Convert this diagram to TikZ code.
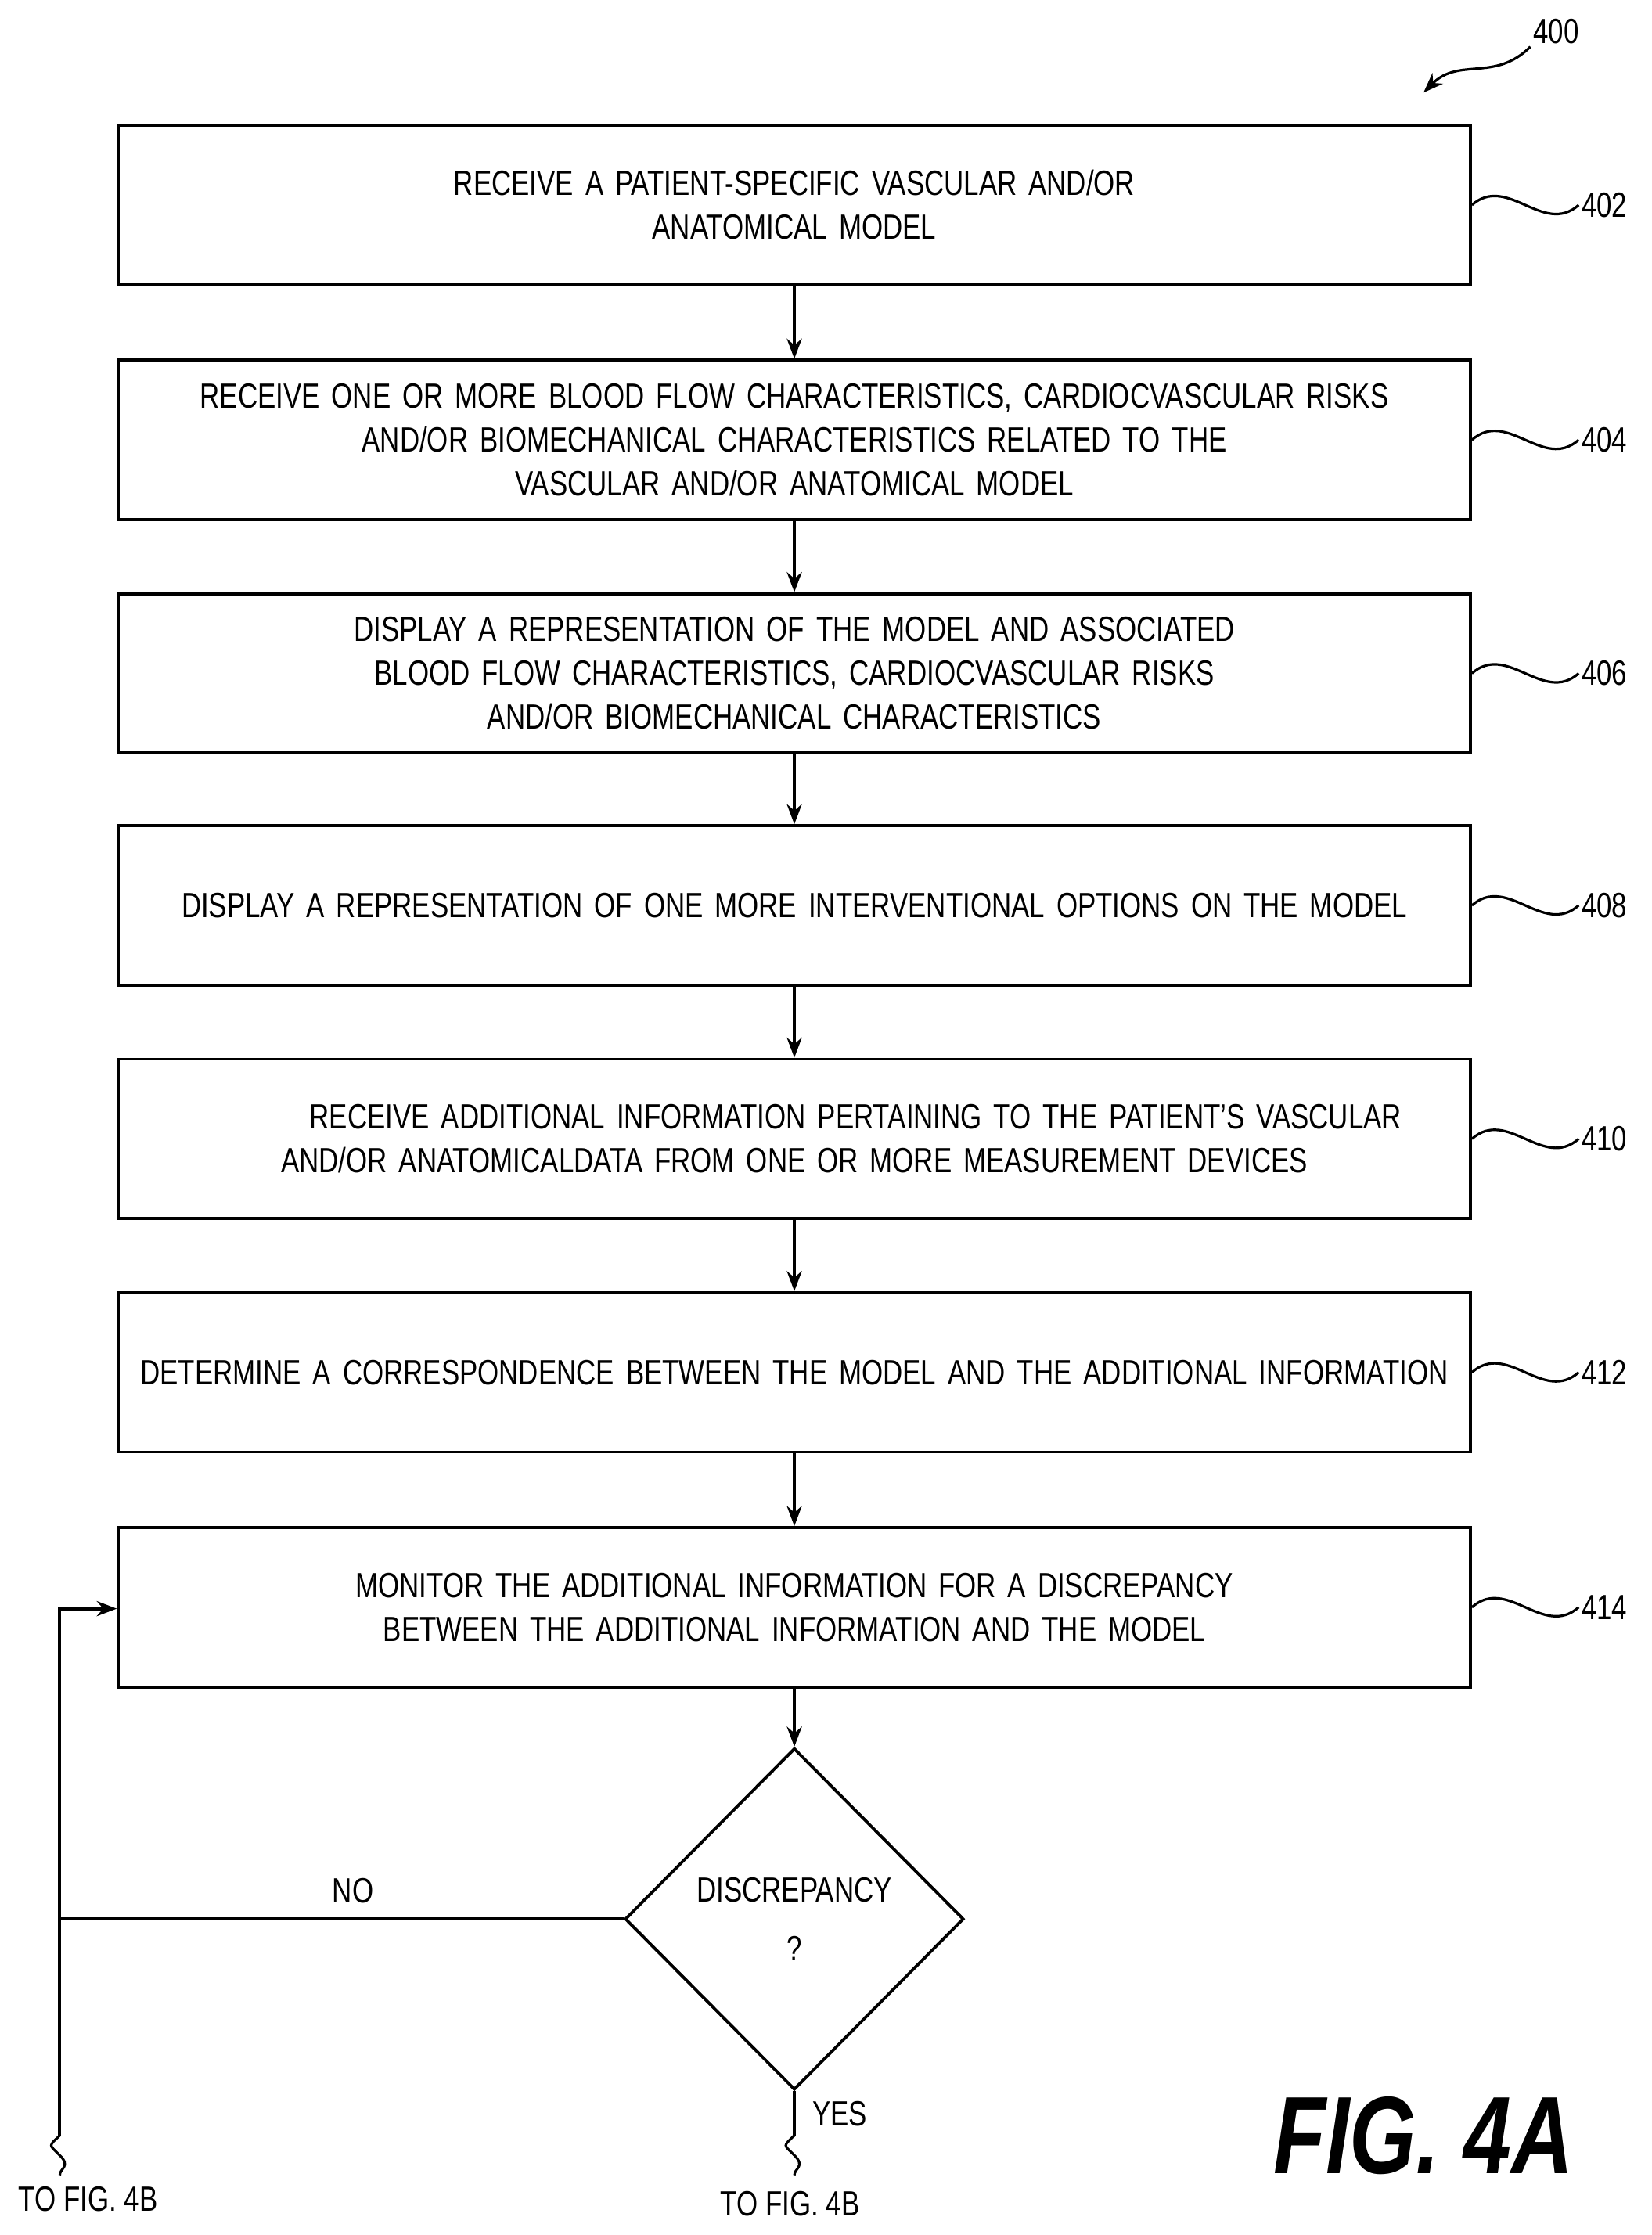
\documentclass[tikz,border=0pt]{standalone}
\usepackage{fontspec}
\setmainfont{Liberation Sans}[FakeStretch=0.78]
\usetikzlibrary{arrows.meta,shapes.geometric,positioning,calc}
\tikzset{
    procstep/.style={
    rectangle,draw=black,line width=1.2pt,text width=18.6cm,inner xsep=0.2cm,minimum height=2.24cm,
    align=center,font=\fontsize{14}{17.5}\selectfont
    },
    decision/.style={
    diamond,draw=black,line width=1.2pt,minimum width=4.76cm,minimum height=4.8cm,
    align=center,font=\fontsize{14}{17.5}\selectfont,inner sep=0pt
    },
    flow/.style={
    line width=1.2pt,-{Stealth[length=8pt,width=6pt]}
    },
    wave/.style={
    line width=1pt
    },
    tag/.style={
    font=\fontsize{14}{17.5}\selectfont,anchor=west,inner sep=1pt
    },
    plain/.style={
    font=\fontsize{14}{17.5}\selectfont
    },
}

\begin{document}
\begin{tikzpicture}[x=0.02cm,y=-0.02cm]
  \useasboundingbox (0,0) rectangle (1160,1570);
  % steps
  \node[procstep] (S402) at (558,144) {RECEIVE A PATIENT-SPECIFIC VASCULAR AND/OR\\ANATOMICAL MODEL};
  \node[procstep] (S404) at (558,309) {RECEIVE ONE OR MORE BLOOD FLOW CHARACTERISTICS, CARDIOCVASCULAR RISKS\\AND/OR BIOMECHANICAL CHARACTERISTICS RELATED TO THE\\VASCULAR AND/OR ANATOMICAL MODEL};
  \node[procstep] (S406) at (558,473) {DISPLAY A REPRESENTATION OF THE MODEL AND ASSOCIATED\\BLOOD FLOW CHARACTERISTICS, CARDIOCVASCULAR RISKS\\AND/OR BIOMECHANICAL CHARACTERISTICS};
  \node[procstep] (S408) at (558,636) {DISPLAY A REPRESENTATION OF ONE MORE INTERVENTIONAL OPTIONS ON THE MODEL};
  \node[procstep] (S410) at (558,800) {\hspace*{3.5em}RECEIVE ADDITIONAL INFORMATION PERTAINING TO THE PATIENT'S VASCULAR\\AND/OR ANATOMICALDATA FROM ONE OR MORE MEASUREMENT DEVICES};
  \node[procstep] (S412) at (558,964) {DETERMINE A CORRESPONDENCE BETWEEN THE MODEL AND THE ADDITIONAL INFORMATION};
  \node[procstep] (S414) at (558,1129) {MONITOR THE ADDITIONAL INFORMATION FOR A DISCREPANCY\\BETWEEN THE ADDITIONAL INFORMATION AND THE MODEL};
  \node[decision] (D416) at (558,1348) {DISCREPANCY\\[6pt]?};

  % arrows between steps
  \foreach \a/\b in {S402/S404,S404/S406,S406/S408,S408/S410,S410/S412,S412/S414,S414/D416}
    \draw[flow] (\a) -- (\b);

  % reference numerals
  \foreach \s/\n in {S402/402,S404/404,S406/406,S408/408,S410/410,S412/412,S414/414}{
    \draw[wave] (\s.east) .. controls +(25,-22) and +(-25,22) .. ++(75,0) coordinate (w\n);
    \node[tag] (L\n) at (w\n) {\n};
  }
  \node[tag] (L400) at (1075,22) {400};
  \coordinate (A400) at (1000,65);
  \draw[wave,-{Stealth[length=8pt,width=6pt]}] (L400.south west) .. controls +(-25,25) and +(25,-25) .. (A400);

  % NO branch
  \coordinate (NoCorner) at (42,1348);
  \coordinate (NoEnd) at (42,1500);
  \coordinate (NoTop) at (42,1130);
  \draw[line width=1.2pt] (D416.west) -- (NoCorner) -- (NoEnd);
  \draw[flow] (NoCorner) -- (NoTop) -- (S414.west |- NoTop);
  \node[plain] (NoLabel) at (248,1328) {NO};
  \draw[wave] (NoEnd) .. controls +(-8,8) and +(-8,-8) .. ++(0,14)
     .. controls +(8,8) and +(0,-5) .. ++(0,14);
  \node[plain] (NoFig) at (62,1545) {TO FIG. 4B};

  % YES branch
  \coordinate (YesEnd) at (558,1500);
  \draw[line width=1.2pt] (D416.south) -- (YesEnd);
  \draw[wave] (YesEnd) .. controls +(-8,8) and +(-8,-8) .. ++(0,14)
     .. controls +(8,8) and +(0,-5) .. ++(0,14);
  \node[plain] (YesLabel) at (590,1485) {YES};
  \node[plain] (YesFig) at (555,1548) {TO FIG. 4B};

  % figure label
  \node (Fig) at (1000,1500) [font=\fontsize{44}{48}\selectfont\bfseries\itshape] {FIG. 4A};
\end{tikzpicture}
\end{document}
